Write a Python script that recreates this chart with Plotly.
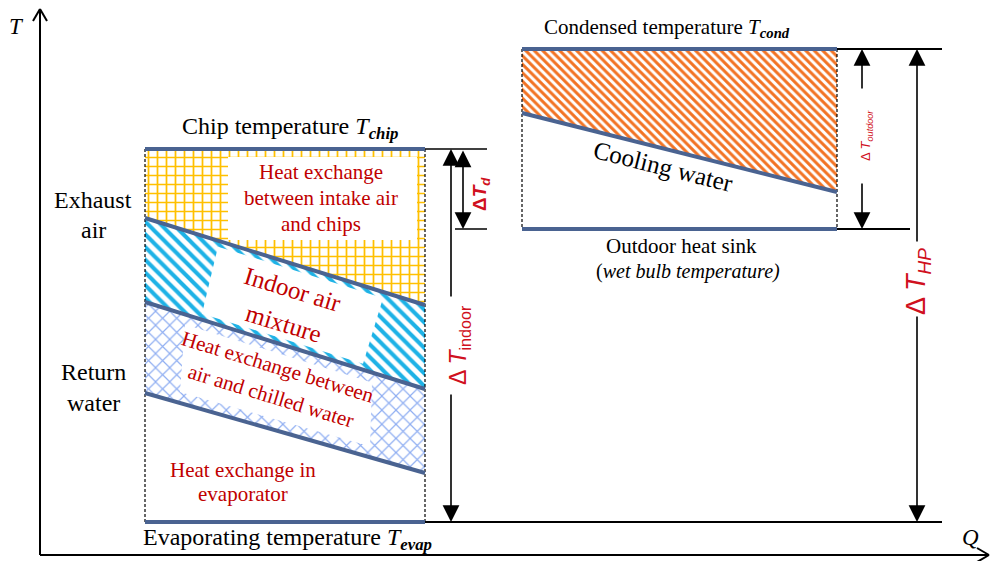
import plotly.graph_objects as go

# Schematic T-Q diagram of a data-centre cooling chain.
# Coordinates are in canvas units (x to the right, y downward).

# Heat-flow extents of the two exchangers
q_indoor = [145, 425]
q_outdoor = [522, 837]

# Temperature levels (canvas y) of the indoor side
t_chip = 149
t_evap = 522
t_exhaust = [218, 305]
t_mixture = [302, 389]
t_return = [393, 473]

# Temperature levels of the outdoor side
t_cond = 49
t_wetbulb = 229
t_cooling = [113, 192]

LINE = "#4A6391"
RED = "#C00000"
SERIF = "Liberation Serif"
SANS = "Liberation Sans"

fig = go.Figure()


def band(xs, top, bottom, pattern=None, color="white"):
    x0, x1 = xs
    t0, t1 = (top, top) if not isinstance(top, list) else top
    b0, b1 = (bottom, bottom) if not isinstance(bottom, list) else bottom
    kw = dict(x=[x0, x1, x1, x0, x0], y=[t0, t1, b1, b0, t0], mode="none",
              fill="toself", hoverinfo="skip", showlegend=False)
    if pattern:
        kw["fillpattern"] = dict(bgcolor="white", fillmode="replace", **pattern)
        kw["fillcolor"] = "white"
    else:
        kw["fillcolor"] = color
    fig.add_trace(go.Scatter(**kw))


def lerp(xs, ys, x):
    return ys[0] + (ys[1] - ys[0]) * (x - xs[0]) / (xs[1] - xs[0])


def white_patch(xl_top, xr_top, xl_bot, xr_bot, upper, lower, pad_top, pad_bot):
    ys_top = [lerp(q_indoor, upper, xl_top) + pad_top, lerp(q_indoor, upper, xr_top) + pad_top]
    ys_bot = [lerp(q_indoor, lower, xr_bot) - pad_bot, lerp(q_indoor, lower, xl_bot) - pad_bot]
    fig.add_trace(go.Scatter(
        x=[xl_top, xr_top, xr_bot, xl_bot, xl_top],
        y=[ys_top[0], ys_top[1], ys_bot[0], ys_bot[1], ys_top[0]],
        mode="none", fill="toself", fillcolor="white", hoverinfo="skip", showlegend=False))


# Intake air / chips exchange (yellow grid)
band(q_indoor, t_chip, t_exhaust,
     dict(shape="+", fgcolor="#FFC000", size=9, solidity=0.35))
band([228, 417], 157, 240)

# Indoor air mixture (cyan stripes)
band(q_indoor, t_exhaust, t_mixture,
     dict(shape="\\", fgcolor="#1EB2E6", size=9, solidity=0.45))
white_patch(218, 383, 202, 363, t_exhaust, t_mixture, 6, 6)

# Air / chilled water exchange (light blue lattice)
band(q_indoor, t_mixture, t_return,
     dict(shape="x", fgcolor="#8FAEF2", size=10, solidity=0.22))
white_patch(185, 372, 180, 370, t_mixture, t_return, 10, 11)

# Condenser / cooling water (orange stripes)
band(q_outdoor, t_cond, t_cooling,
     dict(shape="\\", fgcolor="#F27324", size=6, solidity=0.5))

shapes = []


def seg(x0, y0, x1, y1, color="black", width=1.5, dash=None):
    d = dict(type="line", xref="x", yref="y", x0=x0, y0=y0, x1=x1, y1=y1,
             line=dict(color=color, width=width))
    if dash:
        d["line"]["dash"] = dash
    shapes.append(d)


# Panel borders (dashed)
for x in q_indoor:
    seg(x, t_chip, x, t_evap, width=1.2, dash="3px,2px")
for x in q_outdoor:
    seg(x, t_cond, x, t_wetbulb, width=1.2, dash="3px,2px")

# Temperature lines
seg(q_indoor[0], t_chip, q_indoor[1], t_chip, LINE, 4)
seg(q_indoor[0], t_evap, q_indoor[1], t_evap, LINE, 4)
for ys in (t_exhaust, t_mixture, t_return):
    seg(q_indoor[0], ys[0], q_indoor[1], ys[1], LINE, 4)
seg(q_outdoor[0], t_cond, q_outdoor[1], t_cond, LINE, 4)
seg(q_outdoor[0], t_wetbulb, q_outdoor[1], t_wetbulb, LINE, 4)
seg(q_outdoor[0], t_cooling[0], q_outdoor[1], t_cooling[1], LINE, 4)

# Extension lines for the dimension arrows
seg(q_indoor[1], t_chip, 487, t_chip)
seg(455, t_wetbulb, 487, t_wetbulb)
seg(q_indoor[1], t_evap, 942, t_evap, width=2)
seg(q_outdoor[1], t_cond, 942, t_cond, width=2)
seg(q_outdoor[1], t_wetbulb, 910, t_wetbulb, width=2)

# T and Q axes with open arrow tips
seg(40, 555, 40, 9, width=2)
seg(33, 21, 40, 9, width=2)
seg(47, 21, 40, 9, width=2)
seg(40, 555, 989, 555, width=2)
seg(977, 548, 989, 555, width=2)
seg(977, 562, 989, 555, width=2)

annotations = []


def arrow(x, y_from, y_to, both=False):
    a = dict(x=x, y=y_to, ax=x, ay=y_from, xref="x", yref="y", axref="x", ayref="y",
             text="", showarrow=True, arrowhead=2, arrowsize=2.1, arrowwidth=1.6,
             arrowcolor="black", standoff=0, startstandoff=0)
    if both:
        a.update(arrowside="end+start", startarrowhead=2, startarrowsize=2.1)
    annotations.append(a)


arrow(463, t_chip, t_wetbulb, both=True)        # delta T_d
arrow(451, 298, t_chip)                          # delta T_indoor
arrow(451, 393, t_evap)
arrow(862, 90, t_cond)                           # delta T_outdoor
arrow(862, 182, t_wetbulb)
arrow(917, 243, t_cond)                          # delta T_HP
arrow(917, 315, t_evap)


def label(x, y, text, size=18, color="black", family=SERIF, angle=0):
    annotations.append(dict(x=x, y=y, xref="x", yref="y", text=text, showarrow=False,
                            textangle=angle, xanchor="center", yanchor="middle",
                            font=dict(family=family, size=size, color=color)))


label(16, 26, "<i>T</i>", 23)
label(970, 537, "<i>Q</i>", 23)
label(290, 128, "Chip temperature <i>T</i><sub><b><i>chip</i></b></sub>", 24)
label(287, 539, "Evaporating temperature <i>T</i><sub><b><i>evap</i></b></sub>", 24)
label(667, 28, "Condensed temperature <i>T</i><sub><b><i>cond</i></b></sub>", 21)
label(681, 246, "Outdoor heat sink", 21)
label(688, 271, "(<i>wet bulb temperature)</i>", 20)
label(93, 200, "Exhaust", 24)
label(93, 230, "air", 24)
label(93, 372, "Return", 24)
label(93, 403, "water", 24)

label(321, 172, "Heat exchange", 21, RED)
label(321, 198, "between intake air", 21, RED)
label(321, 224, "and chips", 21, RED)
label(293, 289, "Indoor air", 25, RED, angle=17)
label(284, 323, "mixture", 25, RED, angle=17)
label(278, 367, "Heat exchange between", 21, RED, angle=17)
label(271, 396, "air and chilled water", 21, RED, angle=17)
label(243, 470, "Heat exchange in", 21, RED)
label(243, 494, "evaporator", 21, RED)
label(663, 166, "Cooling water", 25, "black", angle=14)

label(481, 194, "<b>Δ<i>T</i><sub><i>d</i></sub></b>", 19, "#D01020", SANS, -90)
label(459, 345, "Δ <i>T</i><sub>indoor</sub>", 23, "#D01020", SANS, -90)
label(866, 136, "Δ <i>T</i><sub><i>outdoor</i></sub>", 13, "#D01020", SANS, -90)
label(918, 282, "Δ <i>T</i><sub><i>HP</i></sub>", 27, "#D01020", SANS, -90)

fig.update_layout(
    width=996, height=561,
    margin=dict(l=0, r=0, t=0, b=0),
    paper_bgcolor="white", plot_bgcolor="white",
    xaxis=dict(range=[0, 996], visible=False, fixedrange=True),
    yaxis=dict(range=[561, 0], visible=False, fixedrange=True),
    shapes=shapes, annotations=annotations, showlegend=False,
)

fig.write_html("out.html")
